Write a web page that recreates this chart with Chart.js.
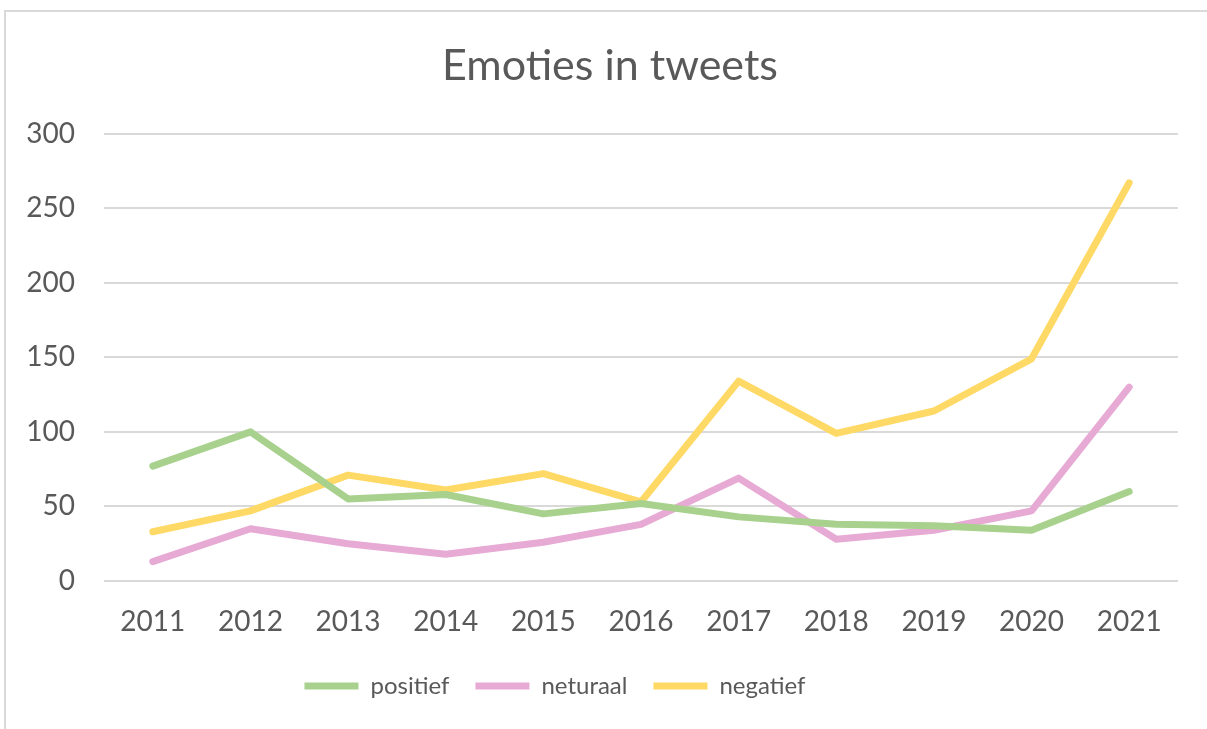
<!DOCTYPE html>
<html>
<head>
<meta charset="utf-8">
<script src="https://cdn.jsdelivr.net/npm/chart.js@4.4.1/dist/chart.umd.min.js"></script>
<style>
  html, body { margin: 0; padding: 0; background: #fff; overflow: hidden; }
  #frame {
    position: absolute; left: 4px; top: 10px;
    width: 1230px; height: 740px;
    border: 2px solid #d9d9d9; box-sizing: border-box;
  }
  #wrap { position: absolute; left: 0; top: 0; width: 1207px; height: 729px; }
</style>
</head>
<body>
<div id="frame"></div>
<div id="wrap"><canvas id="chart" width="1207" height="729"></canvas></div>
<script>
// Emoties in tweets, 2011 - 2021
const years = ['2011', '2012', '2013', '2014', '2015', '2016', '2017', '2018', '2019', '2020', '2021']
const positief = [77, 100, 55, 58, 45, 52, 43, 38, 37, 34, 60]
const neturaal = [13, 35, 25, 18, 26, 38, 69, 28, 34, 47, 130]
const negatief = [33, 47, 71, 61, 72, 53, 134, 99, 114, 149, 267]
const yTicks = [0, 50, 100, 150, 200, 250, 300]

const fontFamily = 'Lato, "Open Sans", sans-serif'
const textColor = '#595959'
const gridColor = '#d9d9d9'

function lineSet(label, data, color) {
  return {
    label: label,
    data: data,
    borderColor: color,
    backgroundColor: color,
    borderWidth: 7,
    borderCapStyle: 'round',
    borderJoinStyle: 'round',
    pointRadius: 0,
    pointHoverRadius: 0,
    pointStyle: 'line',
    tension: 0,
    fill: false
  }
}

// nudge title right and legend left, like the original
const boxShift = {
  id: 'boxShift',
  afterLayout(chart) {
    const lg = chart.legend
    if (lg) { lg.left -= 34; lg.right -= 34 }
    const tb = chart.titleBlock
    if (tb) { tb.left += 21; tb.right += 21 }
  }
}

new Chart(document.getElementById('chart'), {
  type: 'line',
  data: {
    labels: years,
    datasets: [
      lineSet('positief', positief, '#a9d18e'),
      lineSet('neturaal', neturaal, '#e7aad4'),
      lineSet('negatief', negatief, '#ffd966')
    ]
  },
  plugins: [boxShift],
  options: {
    responsive: false,
    animation: false,
    layout: { padding: { left: 0, right: 29, top: 0, bottom: 21 } },
    plugins: {
      title: {
        display: true,
        text: 'Emoties in tweets',
        color: textColor,
        font: { family: fontFamily, size: 43, weight: 'normal' },
        padding: { top: 40, bottom: 42 }
      },
      legend: {
        position: 'bottom',
        labels: {
          usePointStyle: true,
          pointStyleWidth: 54,
          boxHeight: 7,
          padding: 26,
          color: textColor,
          font: { family: fontFamily, size: 24 }
        }
      },
      tooltip: { enabled: false }
    },
    scales: {
      x: {
        offset: true,
        grid: { display: false, drawTicks: false },
        border: { display: false },
        ticks: {
          color: textColor,
          padding: 24,
          font: { family: fontFamily, size: 28 }
        },
        afterFit(scale) { scale.height = 67 }
      },
      y: {
        min: 0,
        max: 300,
        afterBuildTicks(scale) { scale.ticks = yTicks.map(v => ({ value: v })) },
        grid: { color: gridColor, lineWidth: 2, drawTicks: false },
        border: { display: false },
        ticks: {
          color: textColor,
          padding: 29,
          font: { family: fontFamily, size: 28 }
        },
        afterFit(scale) { scale.width = 104 }
      }
    }
  }
})
</script>
</body>
</html>
